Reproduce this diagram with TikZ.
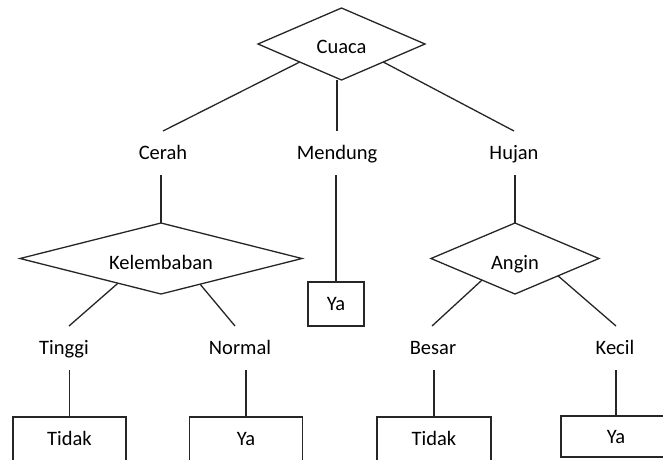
\documentclass[tikz,border=0pt]{standalone}
\usepackage{fontspec}
\setmainfont{Carlito}
\usetikzlibrary{shapes.geometric,calc}
\begin{document}
\begin{tikzpicture}[x=1pt,y=-1pt,
  every node/.style={font=\fontsize{20.5pt}{24pt}\selectfont, text=black},
  dec/.style={diamond, draw=black!85, line width=1.3pt, inner sep=0pt, outer sep=0pt, text height=22pt, text depth=0pt},
  lbl/.style={inner sep=0pt, outer sep=0pt, minimum height=44pt, text height=13.2pt, text depth=0pt},
  leaf/.style={rectangle, draw=black!85, line width=1.3pt, inner sep=0pt, outer sep=0pt, text height=13.2pt, text depth=0pt},
  conn/.style={draw=black!85, line width=1.3pt}]
\useasboundingbox (0,0) rectangle (663,459);
\clip (0,0) rectangle (663,459);
\fill[white] (0,0) rectangle (663,459);

\node[dec, shape aspect=2.32, minimum width=167pt, minimum height=72pt, text height=19pt] (cuaca) at (341.5,44) {Cuaca};
\node[lbl] (cerah) at (163,153) {Cerah};
\node[lbl] (mendung) at (337,153) {Mendung};
\node[lbl] (hujan) at (514,153) {Hujan};
\node[dec, shape aspect=3.97, minimum width=282pt, minimum height=71pt] (kel) at (161,258.5) {Kelembaban};
\node[dec, shape aspect=2.37, minimum width=168pt, minimum height=71pt] (angin) at (515,258.5) {Angin};
\node[leaf, minimum width=56pt, minimum height=44pt] (yam) at (336,304) {Ya};
\node[lbl] (tinggi) at (64,348) {Tinggi};
\node[lbl] (normal) at (240,348) {Normal};
\node[lbl] (besar) at (433,348) {Besar};
\node[lbl] (kecil) at (615,348) {Kecil};
\node[leaf, minimum width=113pt, minimum height=44pt] (t1) at (69.5,439) {Tidak};
\node[leaf, minimum width=113pt, minimum height=44pt] (y2) at (246,439) {Ya};
\node[leaf, minimum width=114pt, minimum height=44pt] (t2) at (434,439) {Tidak};
\node[leaf, minimum width=110pt, minimum height=41pt] (y3) at (616,436.5) {Ya};

\draw[conn] (cuaca.south west) -- (cerah.north);
\draw[conn] (cuaca.south -| mendung.north) -- (mendung.north);
\draw[conn] (cuaca.south east) -- (hujan.north);
\draw[conn] (cerah.south -| kel.north) -- (kel.north);
\draw[conn] (mendung.south -| yam.north) -- (yam.north);
\draw[conn] (hujan.south -| angin.north) -- (angin.north);
\draw[conn] ($(kel.west)!0.695!(kel.south)$) -- ([xshift=5pt]tinggi.north);
\draw[conn] ($(kel.south)!0.277!(kel.east)$) -- ([xshift=-5pt]normal.north);
\draw[conn] ($(angin.west)!0.607!(angin.south)$) -- ([xshift=-1pt]besar.north);
\draw[conn] ($(angin.south)!0.512!(angin.east)$) -- ([xshift=1pt]kecil.north);
\draw[conn] (t1.north |- tinggi.south) -- (t1.north);
\draw[conn] (y2.north |- normal.south) -- (y2.north);
\draw[conn] (t2.north |- besar.south) -- (t2.north);
\draw[conn] (y3.north |- kecil.south) -- (y3.north);
\end{tikzpicture}
\end{document}
